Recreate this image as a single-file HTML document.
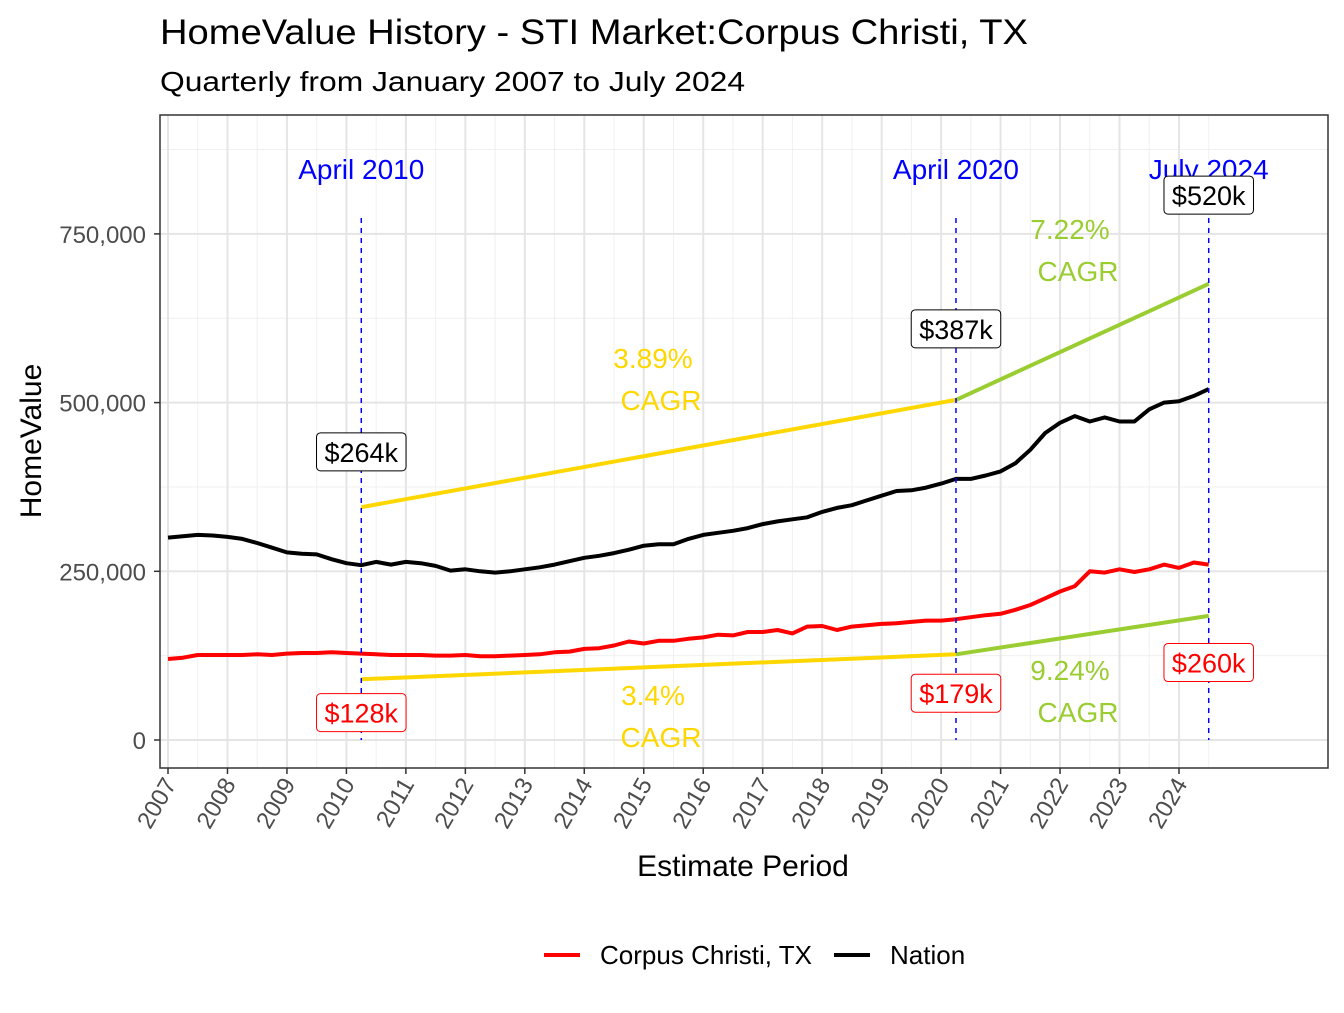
<!DOCTYPE html>
<html><head><meta charset="utf-8"><style>body{margin:0;background:#fff}svg{font-family:"Liberation Sans",Arial,sans-serif}</style></head>
<body>
<svg id="chart" width="1344" height="1008" xmlns="http://www.w3.org/2000/svg">
<text x="160" y="44" font-size="35" textLength="868" lengthAdjust="spacingAndGlyphs" fill="#000">HomeValue History - STI Market:Corpus Christi, TX</text>
<text x="160" y="91" font-size="28" textLength="585" lengthAdjust="spacingAndGlyphs" fill="#000">Quarterly from January 2007 to July 2024</text>
<g id="grid"></g>
<g id="marks"></g>
<rect x="160" y="115" width="1168" height="653" fill="none" stroke="#333" stroke-width="1.5"/>
<g id="axes"></g>
<text x="743" y="876" font-size="30" text-anchor="middle">Estimate Period</text>
<text transform="translate(41,441) rotate(-90)" font-size="30" text-anchor="middle">HomeValue</text>
<g>
<line x1="544" y1="955" x2="580" y2="955" stroke="red" stroke-width="4"/>
<text x="600" y="964" font-size="26" textLength="212" lengthAdjust="spacingAndGlyphs">Corpus Christi, TX</text>
<line x1="834" y1="955" x2="870" y2="955" stroke="#000" stroke-width="4"/>
<text x="890" y="964" font-size="26">Nation</text>
</g>
</svg>
<script>
const years=[2007,2008,2009,2010,2011,2012,2013,2014,2015,2016,2017,2018,2019,2020,2021,2022,2023,2024];
const yTicks=[0,250000,500000,750000];
const yTickLabels=["0","250,000","500,000","750,000"];
const nation=[300,302,304,303,301,298,292,285,278,276,275,268,262,259,264,260,264,262,258,251,253,250,248,250,253,256,260,265,270,273,277,282,288,290,290,298,304,307,310,314,320,324,327,330,338,344,348,355,362,369,370,374,380,387,387,392,398,410,430,455,470,480,472,478,472,472,490,500,502,510,520];
const corpus=[120,122,126,126,126,126,127,126,128,129,129,130,129,128,127,126,126,126,125,125,126,124,124,125,126,127,130,131,135,136,140,146,143,147,147,150,152,156,155,160,160,163,158,168,169,163,168,170,172,173,175,177,177,179,182,185,187,193,200,210,220,228,250,248,253,249,253,260,255,263,260];
const eventDates=[2010.25,2020.25,2024.5];
const eventLabels=["April 2010","April 2020","July 2024"];
const nationCagrX=[2010.25,2020.25,2024.5];
const nationCagrY=[345,504,676];
const corpusCagrY=[90,127,184];
const nationCagrText=["3.89%","7.22%"];
const corpusCagrText=["3.4%","9.24%"];
const nationLabels=["$264k","$387k","$520k"];
const nationLabelVals=[264,387,520];
const corpusLabels=["$128k","$179k","$260k"];
const corpusLabelVals=[128,179,260];
const X=t=>168+(t-2007)*59.47;
const Y=v=>740-v/250000*168.7;
const Yk=v=>Y(v*1000);
const NS="http://www.w3.org/2000/svg";
function mk(tag,attrs,parent,txt){const e=document.createElementNS(NS,tag);for(const k in attrs)e.setAttribute(k,attrs[k]);if(txt!==undefined)e.textContent=txt;document.getElementById(parent).appendChild(e);return e;}
for(let v=125000;v<=875000;v+=250000){const g=mk('line',{x1:160,x2:1328,y1:Y(v),y2:Y(v),stroke:'#f0f0f0','stroke-width':1},'grid');}
for(let i=0;i<years.length;i++){const x=X(years[i]+0.5);const g=mk('line',{x1:x,x2:x,y1:115,y2:768,stroke:'#f0f0f0','stroke-width':1},'grid');}
yTicks.forEach((v,i)=>{const g=mk('line',{x1:160,x2:1328,y1:Y(v),y2:Y(v),stroke:'#e5e5e5','stroke-width':2},'grid');
const t=mk('line',{x1:154,x2:160,y1:Y(v),y2:Y(v),stroke:'#333','stroke-width':1.5},'axes');
const l=mk('text',{x:146,y:Y(v)+9,'font-size':24,fill:'#4d4d4d','text-anchor':'end'},'axes',yTickLabels[i]);});
years.forEach(yr=>{const x=X(yr);const g=mk('line',{x1:x,x2:x,y1:115,y2:768,stroke:'#e5e5e5','stroke-width':2},'grid');
const t=mk('line',{x1:x,x2:x,y1:768,y2:774,stroke:'#333','stroke-width':1.5},'axes');
const l=mk('text',{x:0,y:0,'font-size':24,fill:'#4d4d4d','text-anchor':'end',transform:`translate(${x+9},${784}) rotate(-60)`},'axes',String(yr));});
function series(arr,color,name){const d=arr.map((v,i)=>(i?'L':'M')+X(2007+i/4).toFixed(1)+','+Yk(v).toFixed(1)).join('');const p=mk('path',{d:d,fill:'none',stroke:color,'stroke-width':4,'stroke-linejoin':'round'},'marks');}
function cagr(ys,name){const cols=['#FFD700','#9ACD32'];for(let i=0;i<2;i++){const l=mk('line',{x1:X(nationCagrX[i]),y1:Yk(ys[i]),x2:X(nationCagrX[i+1]),y2:Yk(ys[i+1]),stroke:cols[i],'stroke-width':4},'marks');}}
series(corpus,'red','corpus-christi-line');
series(nation,'#000','nation-line');
cagr(nationCagrY,'nation');cagr(corpusCagrY,'corpus');
eventDates.forEach((d,i)=>{const x=X(d);const l=mk('line',{x1:x,x2:x,y1:218,y2:740,stroke:'blue','stroke-width':1.5,'stroke-dasharray':'5,5'},'marks');
const t=mk('text',{x:x,y:179,'font-size':28,fill:'blue','text-anchor':'middle'},'marks',eventLabels[i]);});
function cagrText(xm,y,txt,col){const a=mk('text',{x:xm,y:y,'font-size':28,fill:col,'text-anchor':'middle'},'marks',txt);const b=mk('text',{x:xm+8,y:y+42,'font-size':28,fill:col,'text-anchor':'middle'},'marks','CAGR');}
cagrText(653,368,nationCagrText[0],'#FFD700');cagrText(1070,239,nationCagrText[1],'#9ACD32');
cagrText(653,705,corpusCagrText[0],'#FFD700');cagrText(1070,680,corpusCagrText[1],'#9ACD32');
function box(x,y,txt,col,name){const w=txt.length*15.5+12;const r=mk('rect',{x:x-w/2,y:y-19,width:w,height:38,rx:4,fill:'#fff',stroke:col,'stroke-width':1},'marks');const t=mk('text',{x:x,y:y+10,'font-size':27,fill:col,'text-anchor':'middle'},'marks',txt);}
const nOff=[-110,-150,-194],cOff=[59,74,98];
eventDates.forEach((d,i)=>{box(X(d),Yk(nationLabelVals[i])+nOff[i],nationLabels[i],'#000','nation-value-label');box(X(d),Yk(corpusLabelVals[i])+cOff[i],corpusLabels[i],'red','corpus-value-label');});
</script>
</body></html>
